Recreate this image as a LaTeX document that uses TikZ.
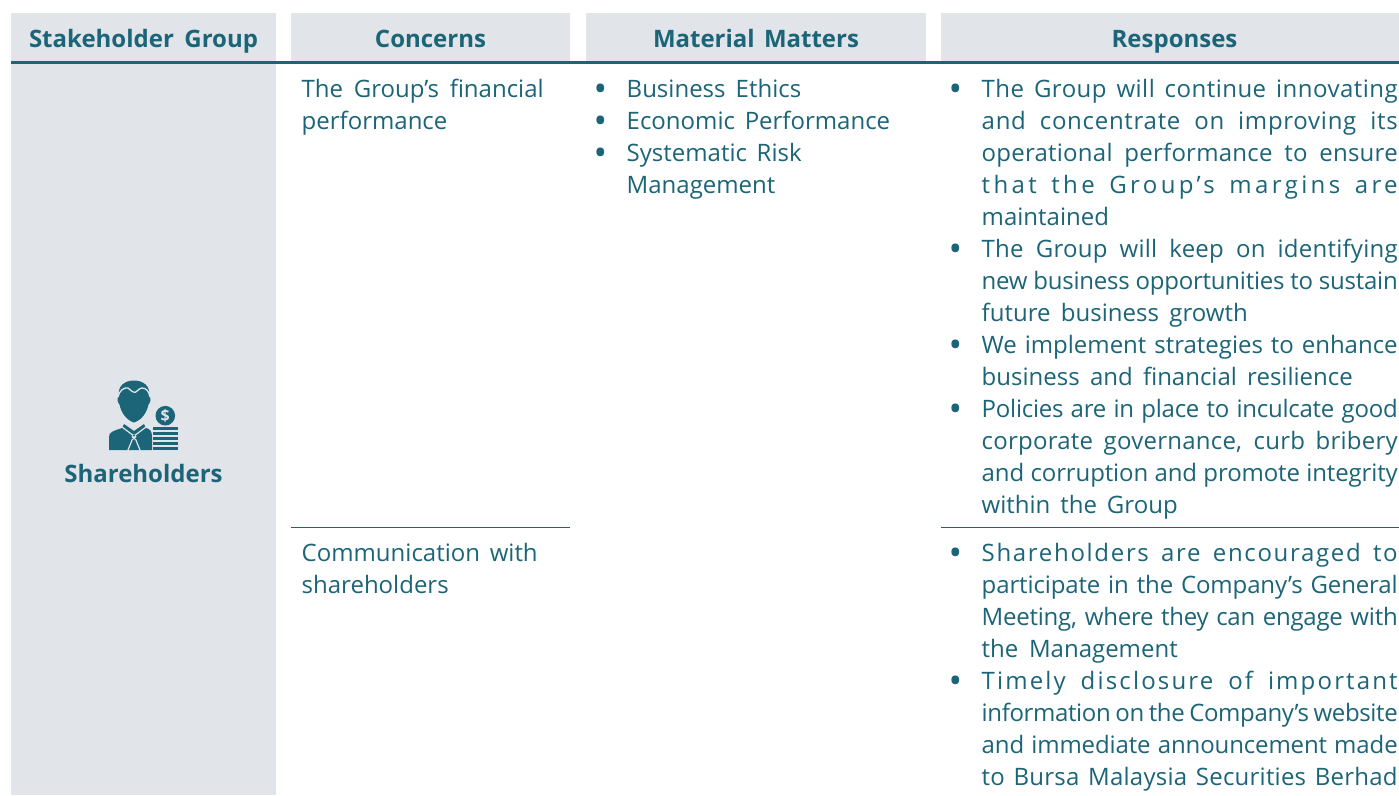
\documentclass[tikz,border=0pt]{standalone}
\usepackage{fontspec}
\setmainfont{Open Sans}
\definecolor{ink}{HTML}{1C6578}
\definecolor{band}{HTML}{E1E4E9}
\newcounter{ln}
\tikzset{x=1pt,y=-1pt,
  headbox/.style={fill=band,draw=none},
  linetext/.style={anchor=base west,inner sep=0pt,text=ink,font=\fontsize{24}{32}\selectfont},
  headtext/.style={anchor=base,inner sep=0pt,text=ink,font=\fontsize{24}{32}\selectfont\bfseries},
  bul/.style={anchor=base,inner sep=0pt,text=ink,font=\fontsize{36}{36}\selectfont},
  iconfill/.style={fill=ink,draw=none}}
\newcommand{\TL}[4]{\stepcounter{ln}\node[linetext] (l\theln) at (#1,#2) {\makebox[#3pt][s]{#4}};}
\newcommand{\SP}[5]{\stepcounter{ln}\node[linetext] (l\theln) at (#1,#2) {\addfontfeature{LetterSpace=#5}\makebox[#3pt][s]{#4}};}
\newcommand{\BU}[2]{\stepcounter{ln}\node[bul] (l\theln) at (#1-0.5,#2+4.6) {\smash{•}};}
\begin{document}
\begin{tikzpicture}
\useasboundingbox (0,0) rectangle (1399,795);
\fill[white] (0,0) rectangle (1399,795);
\fill[headbox] (11,13) rectangle (276,61);
\fill[headbox] (291,13) rectangle (570,61);
\fill[headbox] (586,13) rectangle (926,61);
\fill[headbox] (941,13) rectangle (1399,61);
\fill[headbox] (11,63) rectangle (276,795);
\fill[ink] (11,61) rectangle (1399,63.5);
\fill[ink] (291,527) rectangle (570,528);
\fill[ink] (941,527) rectangle (1399,528);
\node[headtext] (h1) at (143.5,47) {\makebox[229pt][s]{Stakeholder Group}};
\node[headtext] (h2) at (430.5,47) {Concerns};
\node[headtext] (h3) at (756,47) {\makebox[206pt][s]{Material Matters}};
\node[headtext] (h4) at (1174.5,47) {Responses};
% concerns
\TL{301.5}{97}{242}{The Group’s financial}
\TL{301.5}{129}{145}{performance}
\TL{301.5}{561}{236}{Communication with}
\TL{301.5}{593}{147}{shareholders}
% material
\BU{601}{97}\TL{626.5}{97}{174.5}{Business Ethics}
\BU{601}{129}\TL{626.5}{129}{263.5}{Economic Performance}
\BU{601}{161}\TL{626.5}{161}{175}{Systematic Risk}
\TL{626.5}{193}{148}{Management}
% responses
\BU{956}{97}\SP{981.5}{97}{416}{The Group will continue innovating}{2}
\SP{981.5}{129}{416}{and concentrate on improving its}{3}
\SP{981.5}{161}{416}{operational performance to ensure}{1}
\SP{981.5}{193}{416}{that the Group’s margins are}{14}
\TL{981.5}{225}{126}{maintained}
\BU{956}{257}\SP{981.5}{257}{416}{The Group will keep on identifying}{1}
\SP{981.5}{289}{416}{new business opportunities to sustain}{-1}
\TL{981.5}{321}{266}{future business growth}
\BU{956}{353}\TL{981.5}{353}{416}{We implement strategies to enhance}
\TL{981.5}{385}{371}{business and financial resilience}
\BU{956}{417}\SP{981.5}{417}{416}{Policies are in place to inculcate good}{-1}
\SP{981.5}{449}{416}{corporate governance, curb bribery}{1}
\SP{981.5}{481}{416}{and corruption and promote integrity}{-0.5}
\TL{981.5}{513}{196}{within the Group}
\BU{956}{561}\SP{981.5}{561}{416}{Shareholders are encouraged to}{7}
\SP{981.5}{593}{416}{participate in the Company’s General}{-0.5}
\SP{981.5}{625}{416}{Meeting, where they can engage with}{-1}
\TL{981.5}{657}{196}{the Management}
\BU{956}{689}\SP{981.5}{689}{416}{Timely disclosure of important}{9}
\SP{981.5}{721}{416}{information on the Company’s website}{-1.5}
\SP{981.5}{753}{416}{and immediate announcement made}{-0.5}
\SP{981.5}{785}{416}{to Bursa Malaysia Securities Berhad}{1}
% shareholder label
\node[headtext] (sh) at (143.5,482) {Shareholders};
% icon: head
\fill[iconfill] (119,395) .. controls (117.5,386) and (125,380.5) .. (134,380.5) .. controls (143,380.5) and (150.5,386) .. (149,395)
  .. controls (151,398) and (151,402) .. (148.5,404.5) .. controls (147,412) and (142,420) .. (134,422.5) .. controls (126,420) and (121,412) .. (119.5,404.5) .. controls (117,402) and (117,398) .. (119,395) -- cycle;
\draw[band,line width=1.3pt] (118,397) .. controls (119,391) and (124,387) .. (128,388) .. controls (130,390) and (133,392.5) .. (135,392.3) .. controls (137,392) and (139,388) .. (142,388) .. controls (146,388) and (149,391) .. (150,397);
% icon: body
\fill[iconfill] (109,450) -- (109,437) .. controls (109,432) and (113,431) .. (122,428) -- (124,424) -- (134,431) -- (144,424) -- (146,428) .. controls (150,429) and (152,431) .. (152,437) -- (152,450) -- cycle;
\draw[band,line width=1.2pt] (122,427) -- (134,436) -- (146,427);
\draw[band,line width=1.2pt] (132.5,439) -- (128,450);
\draw[band,line width=1.2pt] (135.5,439) -- (140,450);
\fill[band] (134,434) -- (136.5,436.5) -- (134,440) -- (131.5,436.5) -- cycle;
\fill[iconfill] (134,435.6) circle (1);
% icon: coin
\fill[iconfill] (165.3,415.7) circle (9.8);
\node[anchor=center,inner sep=0pt,text=band,font=\fontsize{16}{16}\selectfont\bfseries] (dollar) at (165.3,415.7) {\$};
% icon: stack
\foreach \yy in {428.5,433.5,438.5,443.5,448.5}{\fill[iconfill] (153,\yy-1.2) rectangle (177.5,\yy+1.2);}
\end{tikzpicture}
\end{document}
